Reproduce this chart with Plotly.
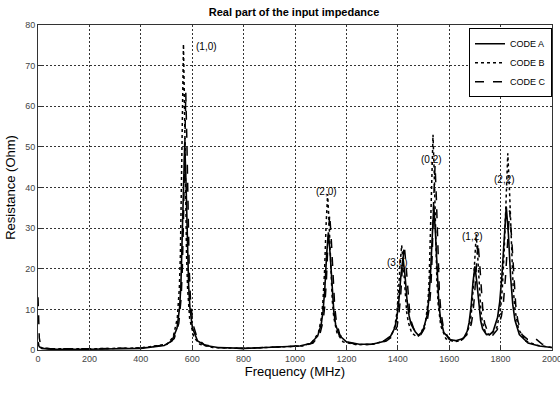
import plotly.graph_objects as go

# ---- data ----
freq_a = [0, 5, 15, 50, 200, 400, 491, 521, 541, 551, 556, 561, 566, 571, 576, 581, 586, 591, 601, 621, 651, 700, 800,
          1018, 1060, 1088, 1102, 1109, 1116, 1123, 1130, 1137, 1144, 1151, 1158, 1172, 1200, 1250,
          1300, 1340, 1372, 1388, 1396, 1404, 1412, 1420, 1428, 1436, 1444, 1452, 1468, 1480,
          1495, 1501, 1514, 1520.5, 1527, 1533.5, 1540, 1546.5, 1553, 1559.5, 1566, 1579, 1605, 1625,
          1655, 1670, 1677.5, 1685, 1692.5, 1700, 1707.5, 1715, 1722.5, 1730, 1745, 1760,
          1771, 1788, 1796.5, 1805, 1813.5, 1822, 1830.5, 1839, 1847.5, 1856, 1873, 1907, 1950, 2000]
res_a = [1.5, 0.8, 0.4, 0.2, 0.2, 0.4, 1.1, 2.2, 5.4, 10.5, 16, 25.8, 41, 51, 41, 25.8, 16, 10.5, 5.4, 2.2, 1.1, 0.6, 0.4,
         1.0, 1.6, 3.4, 6.3, 9.5, 15, 23.4, 29, 23.4, 15, 9.5, 6.3, 3.6, 2.0, 1.4,
         1.4, 2.0, 3.4, 5.4, 7.8, 12, 18.2, 22.6, 18.4, 12.2, 8.4, 6.3, 4.5, 3.6,
         4.5, 5.5, 8.5, 12.3, 18.6, 28.8, 35.6, 28.8, 18.4, 11.7, 7.8, 4.3, 2.5, 2.3,
         2.8, 4.6, 6.8, 10.6, 16.6, 20.6, 16.7, 10.8, 7.2, 5.2, 3.8, 3.9,
         4.6, 8.0, 11.8, 18.2, 28.5, 35.3, 28.4, 17.9, 11.1, 7.3, 3.8, 1.7, 1.0, 0.6]

freq_b = [0, 5, 15, 50, 200, 400, 502, 526, 542, 550, 554, 558, 562, 566, 570, 574, 578, 582, 590, 606, 630, 680, 800,
          1031, 1067, 1091, 1103, 1109, 1115, 1121, 1127, 1133, 1139, 1145, 1151, 1163, 1187, 1240,
          1300, 1350, 1376, 1389, 1395.5, 1402, 1408.5, 1415, 1421.5, 1428, 1434.5, 1441, 1454, 1475,
          1487, 1507, 1517, 1522, 1527, 1532, 1537, 1542, 1547, 1552, 1557, 1567, 1587, 1620,
          1645, 1669, 1681, 1687, 1693, 1699, 1705, 1711, 1717, 1723, 1729, 1741, 1760,
          1786, 1800, 1807, 1814, 1821, 1828, 1835, 1842, 1849, 1856, 1870, 1898, 1940, 2000]
res_b = [2, 1, 0.5, 0.3, 0.3, 0.5, 1.4, 3.2, 7.8, 15.3, 23.3, 37.8, 60.3, 75.3, 60.3, 37.8, 23.3, 15.3, 7.8, 3.2, 1.4, 0.6, 0.4,
         1.0, 1.9, 4.2, 8.0, 12.2, 19.4, 30.8, 38.4, 30.8, 19.4, 12.2, 8.0, 4.3, 2.0, 1.3,
         1.4, 2.2, 3.6, 6.0, 8.8, 13.4, 20.8, 25.8, 21.0, 13.8, 9.3, 6.8, 4.2, 3.2,
         3.8, 6.5, 11.5, 17.3, 27.3, 43, 53, 43, 27.2, 17.2, 11.3, 6.0, 2.8, 2.0,
         2.3, 4.0, 6.6, 9.6, 14.8, 23, 28.5, 23, 14.9, 9.8, 6.9, 4.3, 3.6,
         5.6, 10.2, 15.5, 24.4, 38.8, 48.4, 38.7, 24.3, 15.2, 9.9, 5.1, 2.2, 1.2, 0.6]

freq_c = [0, 2, 5, 10, 20, 50, 200, 400, 503, 530, 548, 557, 561.5, 566, 570.5, 575, 579.5, 584, 588.5, 593, 602, 620, 647, 700, 800,
          1031, 1070, 1096, 1109, 1115.5, 1122, 1128.5, 1135, 1141.5, 1148, 1154.5, 1161, 1174, 1200, 1250,
          1300, 1355, 1383, 1397, 1404, 1411, 1418, 1425, 1432, 1439, 1446, 1453, 1467, 1485,
          1490, 1512, 1523, 1528.5, 1534, 1539.5, 1545, 1550.5, 1556, 1561.5, 1567, 1578, 1600, 1630,
          1647, 1673, 1686, 1692.5, 1699, 1705.5, 1712, 1718.5, 1725, 1731.5, 1738, 1751, 1770,
          1787, 1803, 1811, 1819, 1827, 1835, 1843, 1851, 1859, 1867, 1883, 1905, 1920, 1932, 1945, 1960, 1980, 2000]
res_c = [13, 8, 3, 1.2, 0.5, 0.3, 0.3, 0.5, 1.3, 2.8, 6.6, 12.9, 19.8, 31.8, 50.7, 63.3, 50.7, 31.8, 19.8, 12.9, 6.6, 2.8, 1.3, 0.6, 0.4,
         1.0, 1.7, 3.7, 7.0, 10.6, 16.9, 26.8, 33.4, 26.8, 16.9, 10.6, 7.0, 3.8, 1.9, 1.3,
         1.4, 2.2, 3.5, 5.8, 8.6, 13.2, 20.6, 25.8, 21.0, 13.9, 9.4, 6.9, 4.3, 3.6,
         3.8, 6.3, 10.5, 15.2, 23.5, 36.7, 45.5, 36.6, 23.4, 14.8, 9.8, 5.2, 2.6, 2.1,
         2.4, 4.0, 6.4, 9.0, 13.8, 21.4, 26.5, 21.4, 13.9, 9.2, 6.6, 4.3, 3.7,
         5.0, 8.3, 11.7, 17.9, 27.8, 34.4, 27.6, 17.4, 10.9, 7.2, 3.8, 2.6, 2.6, 3.0, 2.4, 1.5, 1.0, 0.6]

series_names = ["CODE A", "CODE B", "CODE C"]

mode_labels = ["(1,0)", "(2,0)", "(3,0)", "(0,2)", "(1,2)", "(2,2)"]
mode_x = [655, 1122, 1398, 1533, 1690, 1816]
mode_y = [74.6, 39, 21.5, 47, 28, 42]

x_ticks = list(range(0, 2001, 200))
y_ticks = list(range(0, 81, 10))

FONT = "Liberation Sans, Arial, sans-serif"

fig = go.Figure()
fig.add_trace(go.Scatter(x=freq_a, y=res_a, name=series_names[0], mode="lines",
                         line=dict(color="black", width=1.6, dash="solid")))
fig.add_trace(go.Scatter(x=freq_b, y=res_b, name=series_names[1], mode="lines",
                         line=dict(color="black", width=1.5, dash="dot")))
fig.add_trace(go.Scatter(x=freq_c, y=res_c, name=series_names[2], mode="lines",
                         line=dict(color="black", width=1.5, dash="dash")))

for lab, xv, yv in zip(mode_labels, mode_x, mode_y):
    fig.add_annotation(x=xv, y=yv, text=lab, showarrow=False,
                       font=dict(family=FONT, size=10, color="black"))

axis_common = dict(
    showline=True, linecolor="#333333", linewidth=1, mirror=True,
    showgrid=True, gridcolor="#333333", gridwidth=0.8, griddash="2px,2px",
    ticks="inside", ticklen=4, tickcolor="#333333",
    tickfont=dict(family=FONT, size=9, color="#444444"),
    zeroline=False, automargin=False, ticklabeloverflow="allow",
)

fig.update_layout(
    width=560, height=402,
    paper_bgcolor="white", plot_bgcolor="white",
    margin=dict(l=38, r=8, t=25, b=52),
    title=dict(text="<b>Real part of the input impedance</b>", x=0.525, xanchor="center",
               y=0.97, yanchor="middle", font=dict(family=FONT, size=11, color="black")),
    xaxis=dict(range=[0, 2000], tickvals=x_ticks,
               title=dict(text="Frequency (MHz)", font=dict(family=FONT, size=13, color="black"), standoff=4),
               **axis_common),
    yaxis=dict(range=[0, 80], tickvals=y_ticks,
               title=dict(text="Resistance (Ohm)", font=dict(family=FONT, size=13, color="black"), standoff=6),
               **axis_common),
    legend=dict(x=1, xanchor="right", y=0.99, yanchor="top",
                bgcolor="white", bordercolor="black", borderwidth=1,
                font=dict(family=FONT, size=9, color="black"),
                tracegroupgap=0, itemwidth=30),
    showlegend=True,
)

fig.write_html("out.html", config={"displayModeBar": False},
               post_script="document.body.style.margin='0px';")
